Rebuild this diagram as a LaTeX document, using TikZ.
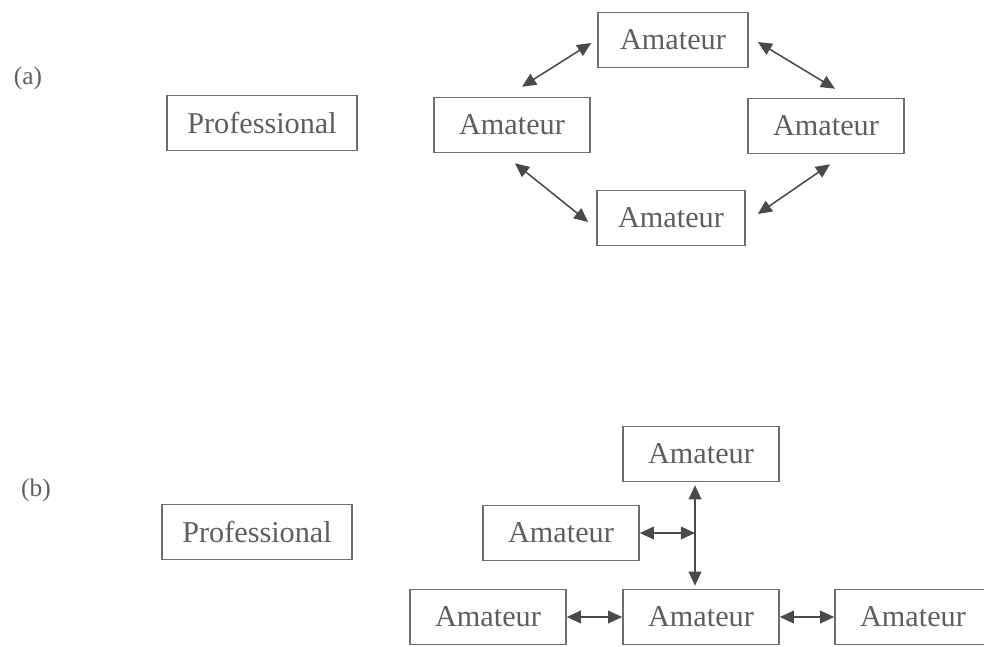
\documentclass[tikz,border=0pt]{standalone}
\usepackage{fontspec}
\setmainfont{Liberation Serif}
\usepackage{xcolor}
\usepackage{tikz}
\usetikzlibrary{arrows.meta,positioning,calc}
\definecolor{ink}{HTML}{4A4A4A}
\definecolor{frame}{HTML}{6E6E6E}
\definecolor{txt}{HTML}{5E5E5E}
\tikzset{
  box/.style={draw=frame, line width=1.1pt, rectangle, inner sep=0pt,
              minimum height=1.375cm, text=txt, font=\fontsize{21.5}{24}\selectfont},
  amab/.style={box, minimum width=3.9cm},
  prob/.style={box, minimum width=4.75cm},
  dbl/.style={{Triangle[length=10pt,width=9pt]}-{Triangle[length=10pt,width=9pt]},
              line width=1.1pt, draw=ink},
  sublbl/.style={text=txt, font=\fontsize{18}{20}\selectfont},
}

\begin{document}
\begin{tikzpicture}[x=0.025cm, y=-0.025cm]
  \useasboundingbox (0,0) rectangle (984,646);

  % --- (a): ring of amateurs ---
  \node[sublbl] (labA) at (28,78) {(a)};
  \node[prob] (proA) at (262,123) {Professional};
  \node[amab, minimum width=3.75cm] (topA) at (673,40)  {Amateur};
  \node[amab] (lftA) at (512,125)  {Amateur};
  \node[amab] (rgtA) at (826,126)  {Amateur};
  \node[amab, minimum width=3.7cm] (botA) at (671,218) {Amateur};

  \draw[dbl] ($(lftA.north)+(10,-10)$) -- ($(topA.west)+(-6,3)$);
  \draw[dbl] ($(topA.east)+(9,2)$)     -- ($(rgtA.north)+(9,-9)$);
  \draw[dbl] ($(lftA.south)+(3,10)$)   -- ($(botA.west)+(-8,4)$);
  \draw[dbl] ($(rgtA.south)+(4,10)$)   -- ($(botA.east)+(12,-4)$);

  % --- (b): amateurs around a hub ---
  \node[sublbl] (labB) at (36,490) {(b)};
  \node[prob] (proB) at (257,532) {Professional};
  \node[amab] (topB) at (701,454) {Amateur};
  \node[amab] (midB) at (561,533) {Amateur};
  \node[amab] (blB)  at (488,617) {Amateur};
  \node[amab] (bcB)  at (701,617) {Amateur};
  \node[amab] (brB)  at (913,617) {Amateur};

  \coordinate (jn) at ($(topB.south)!0.5!(bcB.north)+(-6,0)$);
  \draw[dbl] ($(topB.south)+(-6,3)$) -- ($(bcB.north)+(-6,-3)$);
  \draw[dbl] (midB.east) -- (jn |- midB.east);
  \draw[dbl] (blB.east) -- (bcB.west);
  \draw[dbl] (bcB.east) -- (brB.west);
\end{tikzpicture}
\end{document}
